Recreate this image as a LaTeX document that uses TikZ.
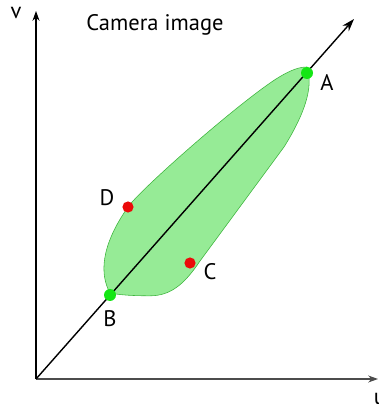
\documentclass[tikz,border=0pt]{standalone}
\usepackage{fontspec}
\setmainfont{PT Sans}
\usetikzlibrary{arrows.meta, positioning}
\definecolor{blobfill}{RGB}{150,235,150}
\definecolor{blobdraw}{RGB}{60,180,60}
\definecolor{dotgreen}{RGB}{20,230,20}
\definecolor{dotred}{RGB}{235,10,10}
\tikzset{axis/.style={draw,line width=0.8pt,-{Stealth[length=7pt,width=5pt]}},
    ray/.style={draw,line width=1pt,-{Stealth[length=9pt,width=6pt]}},
    greendot/.style={circle,fill=dotgreen,minimum size=0.3cm,inner sep=0pt},
    reddot/.style={circle,fill=dotred,minimum size=0.28cm,inner sep=0pt},
    lbl/.style={font=\fontsize{16}{18}\selectfont}}

\begin{document}
\begin{tikzpicture}
\useasboundingbox (-0.9,-0.625) rectangle (8.575,9.475);

% Define the origin and the axis ends
\coordinate (O) at (0,0);
\coordinate (vend) at (0,9.2);
\coordinate (uend) at (8.55,0);
\coordinate (rayend) at (7.95,9.0);

% Draw the region around the line
\filldraw[fill=blobfill, draw=blobdraw, line width=0.4pt]
  (6.775,7.8) .. controls (6.95,7.3) and (6.7,6.6) .. (6.2,5.8)
  -- (4.1,2.95)
  .. controls (3.7,2.35) and (3.35,2.08) .. (2.85,2.08)
  .. controls (2.4,2.08) and (2.1,2.1) .. (1.85,2.15)
  .. controls (1.6,2.6) and (1.6,3.3) .. (2.3,4.3)
  .. controls (2.6,4.73) and (5.0,6.85) .. (6.0,7.5)
  .. controls (6.4,7.75) and (6.6,7.8) .. cycle;

% Draw the axes and the line
\draw[axis] (O) -- (vend);
\draw[axis, black!70] (O) -- (uend);
\draw[ray] (O) -- (rayend);

% Mark the points
\node[greendot] (A) at (6.775,7.65) {};
\node[greendot] (B) at (1.85,2.1) {};
\node[reddot] (C) at (3.85,2.9) {};
\node[reddot] (D) at (2.3,4.3) {};

% Label the points and axes
\node[lbl] (Alabel) at (7.275,7.4) {A};
\node[lbl] (Blabel) at (1.85,1.5) {B};
\node[lbl] (Clabel) at (4.35,2.675) {C};
\node[lbl] (Dlabel) at (1.775,4.525) {D};
\node[lbl] (vlabel) at (-0.5,9.15) {v};
\node[lbl] (ulabel) at (8.6,-0.5) {u};
\node[lbl] (title) at (2.975,8.85) {Camera image};
\end{tikzpicture}
\end{document}
